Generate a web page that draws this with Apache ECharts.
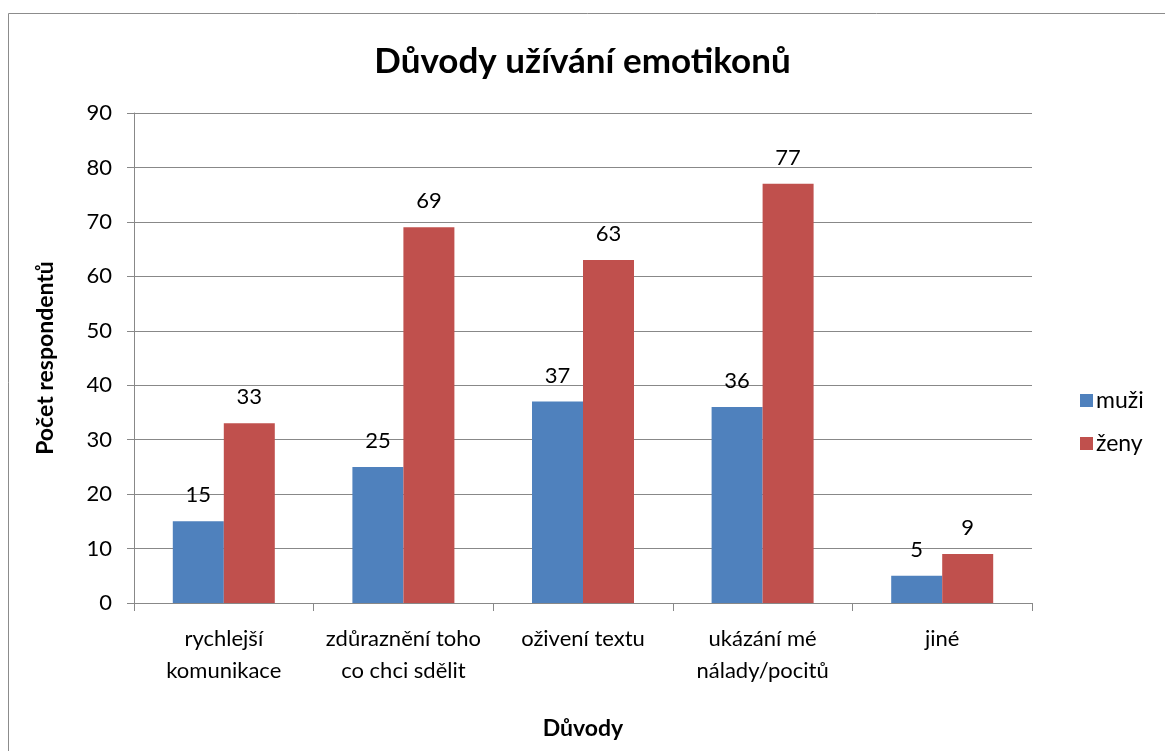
<!DOCTYPE html>
<html>
<head>
<meta charset="utf-8">
<script src="https://cdn.jsdelivr.net/npm/echarts@6/dist/echarts.min.js"></script>
<style>
  html, body { margin: 0; padding: 0; background: #fff; }
  #chart { width: 1165px; height: 751px; }
</style>
</head>
<body>
<div id="chart"></div>
<script>
var categories = ['rychlejší\nkomunikace', 'zdůraznění toho\nco chci sdělit', 'oživení textu', 'ukázání mé\nnálady/pocitů', 'jiné'];
var muzi = [15, 25, 37, 36, 5];
var zeny = [33, 69, 63, 77, 9];
var yTicks = [0, 90, 10];

var chartDom = document.getElementById('chart');
var myChart = echarts.init(chartDom);
var font = 'Lato, "Liberation Sans", sans-serif';

var labelStyle = {
  show: true,
  position: 'top',
  distance: 15,
  fontFamily: font,
  fontSize: 22,
  color: '#000'
};

var option = {
  backgroundColor: '#fff',
  animation: false,
  graphic: [{
    type: 'rect',
    shape: { x: 8.5, y: 13.5, width: 1170, height: 760 },
    style: { fill: 'none', stroke: '#8c8c8c', lineWidth: 1 }
  }],
  title: {
    text: 'Důvody užívání emotikonů',
    left: 'center',
    top: 39,
    textStyle: { fontFamily: font, fontSize: 35, fontWeight: 'bold', color: '#000' }
  },
  legend: {
    orient: 'vertical',
    left: 1075,
    top: 384,
    itemWidth: 13,
    itemHeight: 13,
    itemGap: 20,
    icon: 'rect',
    textStyle: { fontFamily: font, fontSize: 23, color: '#000', padding: [0, 0, 0, -2] },
    data: ['muži', 'ženy']
  },
  grid: { left: 134, right: 133, top: 113, bottom: 148, containLabel: false },
  xAxis: {
    type: 'category',
    data: categories,
    name: 'Důvody',
    nameLocation: 'middle',
    nameGap: 114,
    nameTextStyle: { fontFamily: font, fontSize: 23, fontWeight: 'bold', color: '#000' },
    axisLine: { lineStyle: { color: '#888', width: 1 } },
    axisTick: { show: true, length: 8, lineStyle: { color: '#888' } },
    axisLabel: { interval: 0, fontFamily: font, fontSize: 22, color: '#000', margin: 20, lineHeight: 32 }
  },
  yAxis: {
    type: 'value',
    min: yTicks[0],
    max: yTicks[1],
    interval: yTicks[2],
    name: 'Počet respondentů',
    nameLocation: 'middle',
    nameGap: 77,
    nameTextStyle: { fontFamily: font, fontSize: 23, fontWeight: 'bold', color: '#000' },
    axisLine: { show: true, lineStyle: { color: '#888', width: 1 } },
    axisTick: { show: true, length: 7, lineStyle: { color: '#888' } },
    axisLabel: { fontFamily: font, fontSize: 22, color: '#000', margin: 22 },
    splitLine: { lineStyle: { color: '#888', width: 1 } }
  },
  series: [
    {
      name: 'muži',
      type: 'bar',
      data: muzi,
      barWidth: 51,
      barGap: '0%',
      itemStyle: { color: '#4f81bd' },
      label: labelStyle
    },
    {
      name: 'ženy',
      type: 'bar',
      data: zeny,
      barWidth: 51,
      itemStyle: { color: '#c0504d' },
      label: labelStyle
    }
  ]
};
myChart.setOption(option);
</script>
</body>
</html>
